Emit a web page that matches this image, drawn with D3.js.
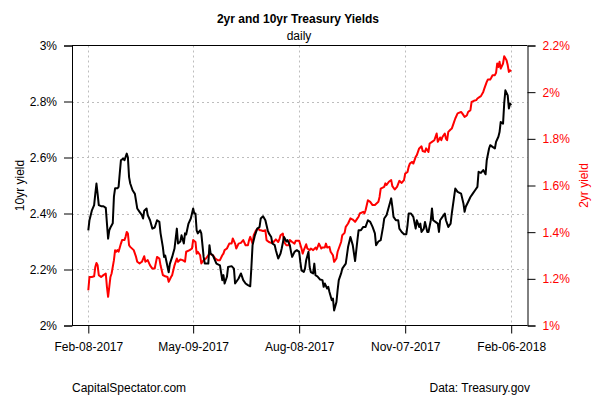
<!DOCTYPE html>
<html>
<head>
<meta charset="utf-8">
<script src="https://cdn.jsdelivr.net/npm/d3@7"></script>
<style>
  html, body { margin: 0; padding: 0; background: #fff; }
  svg { display: block; }
  text { font-family: "Liberation Sans", Arial, sans-serif; }
</style>
</head>
<body>
<svg id="chart" width="600" height="400"></svg>
<script>
// ---- Data ----
const title = "2yr and 10yr Treasury Yields";
const subtitle = "daily";
const leftAxisTitle = "10yr yield";
const rightAxisTitle = "2yr yield";
const sourceLeft = "CapitalSpectator.com";
const sourceRight = "Data: Treasury.gov";

const xTickDates = ["2017-02-08", "2017-05-09", "2017-08-08", "2017-11-07", "2018-02-06"];
const leftTicks = [2, 2.2, 2.4, 2.6, 2.8, 3];
const rightTicks = [1, 1.2, 1.4, 1.6, 1.8, 2, 2.2];

// 10-year yield (%)
const tenYr = [
["2017-02-08",2.34],["2017-02-09",2.376],["2017-02-11",2.41],["2017-02-13",2.43],["2017-02-14",2.47],["2017-02-15",2.507],
["2017-02-16",2.47],["2017-02-17",2.43],["2017-02-19",2.426],["2017-02-21",2.426],["2017-02-23",2.42],["2017-02-24",2.365],
["2017-02-25",2.31],["2017-02-26",2.34],["2017-02-27",2.35],["2017-03-01",2.365],["2017-03-02",2.46],["2017-03-03",2.49],
["2017-03-05",2.49],["2017-03-06",2.495],["2017-03-07",2.543],["2017-03-08",2.59],["2017-03-10",2.596],["2017-03-11",2.59],
["2017-03-13",2.614],["2017-03-14",2.60],["2017-03-15",2.53],["2017-03-16",2.507],["2017-03-18",2.483],["2017-03-20",2.47],
["2017-03-22",2.418],["2017-03-24",2.406],["2017-03-26",2.394],["2017-03-27",2.382],["2017-03-28",2.41],["2017-03-30",2.418],
["2017-03-31",2.394],["2017-04-02",2.376],["2017-04-04",2.346],["2017-04-06",2.35],["2017-04-08",2.376],["2017-04-10",2.37],
["2017-04-11",2.33],["2017-04-13",2.28],["2017-04-14",2.245],["2017-04-15",2.25],["2017-04-18",2.19],["2017-04-19",2.22],
["2017-04-21",2.245],["2017-04-23",2.275],["2017-04-25",2.346],["2017-04-26",2.293],["2017-04-28",2.30],["2017-04-29",2.322],
["2017-05-01",2.293],["2017-05-02",2.329],["2017-05-03",2.325],["2017-05-05",2.364],["2017-05-07",2.382],["2017-05-09",2.418],
["2017-05-10",2.40],["2017-05-11",2.40],["2017-05-12",2.34],["2017-05-13",2.329],["2017-05-15",2.34],["2017-05-16",2.329],
["2017-05-18",2.245],["2017-05-19",2.221],["2017-05-22",2.221],["2017-05-23",2.287],["2017-05-24",2.257],["2017-05-26",2.25],
["2017-05-29",2.221],["2017-06-01",2.215],["2017-06-03",2.162],["2017-06-04",2.18],["2017-06-05",2.15],["2017-06-07",2.174],
["2017-06-08",2.209],["2017-06-11",2.212],["2017-06-13",2.203],["2017-06-14",2.15],["2017-06-17",2.168],["2017-06-19",2.186],
["2017-06-21",2.162],["2017-06-23",2.15],["2017-06-25",2.144],["2017-06-27",2.14],["2017-06-28",2.209],["2017-06-29",2.287],
["2017-07-01",2.322],["2017-07-03",2.346],["2017-07-05",2.352],["2017-07-06",2.382],["2017-07-08",2.39],["2017-07-10",2.376],
["2017-07-12",2.34],["2017-07-13",2.329],["2017-07-15",2.316],["2017-07-16",2.293],["2017-07-18",2.287],["2017-07-19",2.269],
["2017-07-21",2.239],["2017-07-23",2.257],["2017-07-24",2.275],["2017-07-26",2.316],["2017-07-28",2.30],["2017-07-29",2.305],
["2017-07-31",2.287],["2017-08-01",2.263],["2017-08-02",2.245],["2017-08-04",2.263],["2017-08-06",2.269],["2017-08-08",2.263],
["2017-08-09",2.227],["2017-08-10",2.197],["2017-08-12",2.191],["2017-08-13",2.203],["2017-08-14",2.233],["2017-08-16",2.263],
["2017-08-17",2.209],["2017-08-18",2.191],["2017-08-20",2.186],["2017-08-21",2.221],["2017-08-22",2.18],["2017-08-24",2.174],
["2017-08-26",2.164],["2017-08-28",2.162],["2017-08-29",2.138],["2017-08-30",2.15],["2017-09-01",2.132],["2017-09-02",2.138],
["2017-09-03",2.12],["2017-09-05",2.09],["2017-09-06",2.096],["2017-09-07",2.054],["2017-09-09",2.084],["2017-09-10",2.126],
["2017-09-11",2.162],["2017-09-13",2.186],["2017-09-14",2.203],["2017-09-17",2.221],["2017-09-19",2.281],["2017-09-21",2.316],
["2017-09-23",2.287],["2017-09-25",2.23],["2017-09-27",2.305],["2017-09-28",2.34],["2017-09-30",2.34],["2017-10-02",2.352],
["2017-10-04",2.352],["2017-10-06",2.376],["2017-10-08",2.37],["2017-10-10",2.352],["2017-10-12",2.329],["2017-10-13",2.287],
["2017-10-15",2.30],["2017-10-17",2.305],["2017-10-19",2.352],["2017-10-20",2.382],["2017-10-22",2.394],["2017-10-24",2.424],
["2017-10-26",2.454],["2017-10-27",2.424],["2017-10-28",2.388],["2017-10-30",2.376],["2017-11-01",2.376],["2017-11-02",2.346],
["2017-11-04",2.334],["2017-11-06",2.326],["2017-11-08",2.326],["2017-11-09",2.358],["2017-11-10",2.40],["2017-11-12",2.40],
["2017-11-14",2.388],["2017-11-16",2.346],["2017-11-17",2.376],["2017-11-19",2.352],["2017-11-20",2.364],["2017-11-21",2.334],
["2017-11-23",2.346],["2017-11-24",2.37],["2017-11-26",2.334],["2017-11-27",2.334],["2017-11-29",2.376],["2017-11-30",2.418],
["2017-12-01",2.376],["2017-12-03",2.37],["2017-12-05",2.364],["2017-12-06",2.334],["2017-12-07",2.376],["2017-12-09",2.388],
["2017-12-11",2.40],["2017-12-12",2.376],["2017-12-14",2.352],["2017-12-16",2.364],["2017-12-17",2.40],["2017-12-19",2.459],
["2017-12-20",2.489],["2017-12-22",2.477],["2017-12-25",2.471],["2017-12-27",2.436],["2017-12-28",2.406],["2017-12-29",2.424],
["2017-12-31",2.441],["2018-01-02",2.459],["2018-01-04",2.471],["2018-01-06",2.483],["2018-01-08",2.495],["2018-01-09",2.549],
["2018-01-11",2.545],["2018-01-13",2.555],["2018-01-15",2.54],["2018-01-16",2.59],["2018-01-18",2.632],["2018-01-19",2.644],
["2018-01-21",2.638],["2018-01-23",2.632],["2018-01-24",2.656],["2018-01-26",2.674],["2018-01-27",2.691],["2018-01-28",2.727],
["2018-01-30",2.721],["2018-01-31",2.793],["2018-02-01",2.84],["2018-02-03",2.822],["2018-02-04",2.775],["2018-02-05",2.793],
["2018-02-06",2.787]
];

// 2-year yield (%)
const twoYr = [
["2017-02-08",1.151],["2017-02-09",1.208],["2017-02-11",1.208],["2017-02-13",1.211],["2017-02-14",1.251],["2017-02-15",1.268],
["2017-02-16",1.258],["2017-02-17",1.216],["2017-02-19",1.208],["2017-02-21",1.216],["2017-02-23",1.223],["2017-02-24",1.165],
["2017-02-25",1.123],["2017-02-26",1.165],["2017-02-27",1.208],["2017-02-28",1.223],["2017-03-02",1.28],["2017-03-03",1.323],
["2017-03-04",1.316],["2017-03-05",1.323],["2017-03-06",1.316],["2017-03-08",1.351],["2017-03-09",1.366],["2017-03-11",1.366],
["2017-03-12",1.38],["2017-03-13",1.401],["2017-03-14",1.394],["2017-03-15",1.344],["2017-03-16",1.337],["2017-03-19",1.323],
["2017-03-21",1.294],["2017-03-22",1.273],["2017-03-24",1.266],["2017-03-26",1.273],["2017-03-28",1.297],["2017-03-29",1.273],
["2017-03-31",1.28],["2017-04-02",1.258],["2017-04-04",1.244],["2017-04-06",1.244],["2017-04-08",1.294],["2017-04-10",1.287],
["2017-04-11",1.258],["2017-04-13",1.216],["2017-04-15",1.211],["2017-04-17",1.208],["2017-04-18",1.187],["2017-04-20",1.208],
["2017-04-21",1.216],["2017-04-23",1.258],["2017-04-25",1.287],["2017-04-26",1.273],["2017-04-28",1.283],["2017-04-30",1.28],
["2017-05-02",1.273],["2017-05-03",1.316],["2017-05-06",1.323],["2017-05-08",1.33],["2017-05-09",1.366],["2017-05-11",1.358],
["2017-05-12",1.308],["2017-05-13",1.316],["2017-05-15",1.301],["2017-05-16",1.266],["2017-05-18",1.28],["2017-05-20",1.287],
["2017-05-22",1.301],["2017-05-23",1.308],["2017-05-26",1.301],["2017-05-28",1.287],["2017-05-30",1.28],["2017-06-01",1.28],
["2017-06-03",1.301],["2017-06-04",1.308],["2017-06-05",1.323],["2017-06-07",1.33],["2017-06-09",1.351],["2017-06-11",1.351],
["2017-06-12",1.373],["2017-06-14",1.351],["2017-06-15",1.33],["2017-06-17",1.351],["2017-06-19",1.354],["2017-06-21",1.366],
["2017-06-23",1.344],["2017-06-25",1.344],["2017-06-26",1.366],["2017-06-27",1.38],["2017-06-29",1.351],["2017-06-30",1.387],
["2017-07-02",1.408],["2017-07-04",1.416],["2017-07-05",1.408],["2017-07-06",1.408],["2017-07-08",1.405],["2017-07-10",1.408],
["2017-07-11",1.366],["2017-07-13",1.358],["2017-07-15",1.354],["2017-07-17",1.358],["2017-07-19",1.369],["2017-07-21",1.358],
["2017-07-22",1.369],["2017-07-23",1.387],["2017-07-25",1.394],["2017-07-26",1.358],["2017-07-28",1.344],["2017-07-30",1.344],
["2017-07-31",1.366],["2017-08-02",1.358],["2017-08-04",1.351],["2017-08-05",1.363],["2017-08-08",1.363],["2017-08-10",1.33],
["2017-08-11",1.308],["2017-08-12",1.323],["2017-08-14",1.348],["2017-08-15",1.33],["2017-08-17",1.323],["2017-08-18",1.33],
["2017-08-20",1.323],["2017-08-22",1.334],["2017-08-23",1.326],["2017-08-25",1.351],["2017-08-27",1.33],["2017-08-28",1.334],
["2017-08-30",1.334],["2017-08-31",1.351],["2017-09-01",1.334],["2017-09-03",1.337],["2017-09-04",1.316],["2017-09-06",1.301],
["2017-09-07",1.273],["2017-09-09",1.287],["2017-09-10",1.316],["2017-09-11",1.33],["2017-09-13",1.358],["2017-09-14",1.387],
["2017-09-16",1.397],["2017-09-17",1.423],["2017-09-19",1.437],["2017-09-21",1.459],["2017-09-23",1.454],["2017-09-25",1.444],
["2017-09-27",1.459],["2017-09-28",1.466],["2017-09-29",1.48],["2017-10-02",1.487],["2017-10-03",1.48],["2017-10-04",1.494],
["2017-10-06",1.537],["2017-10-08",1.53],["2017-10-10",1.516],["2017-10-12",1.516],["2017-10-15",1.53],["2017-10-16",1.551],
["2017-10-17",1.587],["2017-10-20",1.594],["2017-10-21",1.609],["2017-10-22",1.602],["2017-10-24",1.616],["2017-10-26",1.623],
["2017-10-27",1.597],["2017-10-29",1.583],["2017-10-31",1.594],["2017-11-02",1.62],["2017-11-04",1.611],["2017-11-06",1.623],
["2017-11-07",1.651],["2017-11-09",1.658],["2017-11-10",1.68],["2017-11-11",1.694],["2017-11-13",1.701],["2017-11-14",1.694],
["2017-11-16",1.723],["2017-11-17",1.73],["2017-11-19",1.759],["2017-11-21",1.768],["2017-11-22",1.748],["2017-11-24",1.744],
["2017-11-25",1.759],["2017-11-27",1.744],["2017-11-28",1.78],["2017-11-30",1.787],["2017-12-02",1.794],["2017-12-04",1.823],
["2017-12-05",1.787],["2017-12-07",1.806],["2017-12-08",1.794],["2017-12-09",1.808],["2017-12-11",1.823],["2017-12-12",1.801],
["2017-12-13",1.794],["2017-12-14",1.83],["2017-12-16",1.84],["2017-12-17",1.844],["2017-12-19",1.873],["2017-12-20",1.887],
["2017-12-22",1.909],["2017-12-23",1.911],["2017-12-25",1.915],["2017-12-26",1.909],["2017-12-28",1.894],["2017-12-29",1.897],
["2017-12-30",1.901],["2017-12-31",1.915],["2018-01-02",1.923],["2018-01-03",1.958],["2018-01-05",1.963],["2018-01-07",1.966],
["2018-01-08",1.973],["2018-01-10",1.98],["2018-01-11",1.983],["2018-01-13",2.001],["2018-01-14",2.016],["2018-01-16",2.044],
["2018-01-17",2.054],["2018-01-19",2.054],["2018-01-20",2.063],["2018-01-21",2.073],["2018-01-23",2.073],["2018-01-24",2.083],
["2018-01-25",2.123],["2018-01-26",2.108],["2018-01-27",2.13],["2018-01-28",2.101],["2018-01-30",2.123],["2018-01-31",2.154],
["2018-02-02",2.137],["2018-02-03",2.116],["2018-02-04",2.087],["2018-02-05",2.094],["2018-02-06",2.09]
];

// ---- Drawing ----
const parse = d3.timeParse("%Y-%m-%d");
const fmtTick = d3.timeFormat("%b-%d-%Y");
const pct = v => `${+v.toFixed(1)}%`;

const svg = d3.select("#chart");
const plot = { left: 72, right: 527.5, top: 45.5, bottom: 325.5 };
const xPad = 16.3;

const x = d3.scaleTime()
  .domain([parse(xTickDates[0]), parse(xTickDates[xTickDates.length - 1])])
  .range([plot.left + xPad, plot.right - xPad]);
const yL = d3.scaleLinear().domain([2, 3]).range([plot.bottom, plot.top]);
const yR = d3.scaleLinear().domain([1, 2.2]).range([plot.bottom, plot.top]);

// grid
const grid = svg.append("g").attr("stroke", "#bdbdbd").attr("stroke-width", 1)
  .attr("stroke-dasharray", "2,3").attr("fill", "none");
xTickDates.forEach(d => {
  const px = Math.round(x(parse(d))) + 0.5;
  grid.append("line").attr("x1", px).attr("x2", px).attr("y1", plot.top).attr("y2", plot.bottom);
});
leftTicks.filter(t => t > 2 && t < 3).forEach(t => {
  const py = Math.round(yL(t)) + 0.5;
  grid.append("line").attr("x1", plot.left).attr("x2", plot.right).attr("y1", py).attr("y2", py);
});

// lines
const line10 = d3.line().x(d => x(parse(d[0]))).y(d => yL(d[1]));
const line2 = d3.line().x(d => x(parse(d[0]))).y(d => yR(d[1]));
svg.append("path").datum(twoYr).attr("d", line2)
  .attr("fill", "none").attr("stroke", "#ff0000").attr("stroke-width", 2).attr("stroke-linejoin", "round");
svg.append("path").datum(tenYr).attr("d", line10)
  .attr("fill", "none").attr("stroke", "#000000").attr("stroke-width", 2).attr("stroke-linejoin", "round");

// frame lines (top and bottom)
svg.append("line").attr("x1", plot.left).attr("x2", plot.right)
  .attr("y1", plot.top).attr("y2", plot.top).attr("stroke", "#000");
svg.append("line").attr("x1", plot.left).attr("x2", plot.right)
  .attr("y1", plot.bottom).attr("y2", plot.bottom).attr("stroke", "#000");

// axes
const fontSize = "12px";
const axL = svg.append("g").attr("transform", `translate(${plot.left},0)`)
  .call(d3.axisLeft(yL).tickValues(leftTicks).tickFormat(pct).tickSizeOuter(0).tickSize(8).tickPadding(7));
axL.selectAll("text").attr("font-size", fontSize).attr("fill", "#000").attr("font-family", '"Liberation Sans", Arial, sans-serif');

const axR = svg.append("g").attr("transform", `translate(${plot.right},0)`)
  .call(d3.axisRight(yR).tickValues(rightTicks).tickFormat(pct).tickSizeOuter(0).tickSize(8).tickPadding(7));
axR.selectAll("text").attr("font-size", fontSize).attr("fill", "#ff0000").attr("font-family", '"Liberation Sans", Arial, sans-serif');

const axB = svg.append("g").attr("transform", `translate(0,${plot.bottom})`)
  .call(d3.axisBottom(x).tickValues(xTickDates.map(parse)).tickFormat(fmtTick).tickSize(8).tickPadding(9));
axB.select(".domain").remove();
axB.selectAll("text").attr("font-size", fontSize).attr("fill", "#000").attr("font-family", '"Liberation Sans", Arial, sans-serif');

// titles
svg.append("text").attr("x", 298).attr("y", 23).attr("text-anchor", "middle")
  .attr("font-size", "12px").attr("font-weight", "bold").text(title);
svg.append("text").attr("x", 299).attr("y", 40).attr("text-anchor", "middle")
  .attr("font-size", "12px").text(subtitle);

svg.append("text").attr("transform", `translate(24,${(plot.top + plot.bottom) / 2}) rotate(-90)`)
  .attr("text-anchor", "middle").attr("font-size", "12px").attr("fill", "#000").text(leftAxisTitle);
svg.append("text").attr("transform", `translate(588,${(plot.top + plot.bottom) / 2}) rotate(-90)`)
  .attr("text-anchor", "middle").attr("font-size", "12px").attr("fill", "#ff0000").text(rightAxisTitle);

svg.append("text").attr("x", 72).attr("y", 392).attr("font-size", "12px").text(sourceLeft);
svg.append("text").attr("x", 530).attr("y", 392).attr("text-anchor", "end").attr("font-size", "12px").text(sourceRight);
</script>
</body>
</html>
